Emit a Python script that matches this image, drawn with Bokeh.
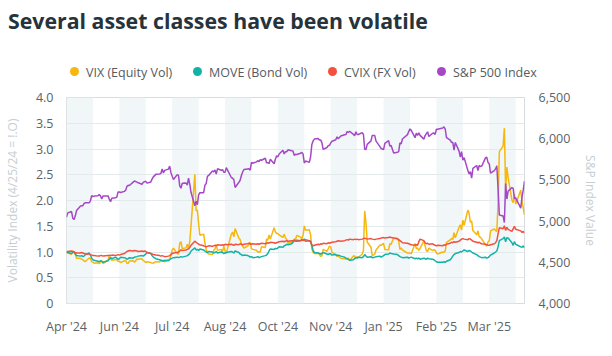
import html
import pandas as pd
from bokeh.plotting import figure
from bokeh.layouts import column
from bokeh.models import (Range1d, LinearAxis, FixedTicker, NumeralTickFormatter,
                          PrintfTickFormatter, BoxAnnotation, Grid, Div)
from bokeh.embed import file_html
from bokeh.resources import INLINE

# ---------------- data ----------------
START = "2024-04-25"
END = "2025-04-24"
market_holidays = ["2024-05-27", "2024-06-19", "2024-07-04", "2024-09-02", "2024-11-28",
                   "2024-12-25", "2025-01-01", "2025-01-09", "2025-01-20", "2025-02-17",
                   "2025-04-18"]

vix_close = [
    15.37, 15.03, 14.67, 15.65,
    15.39, 14.68, 13.49, 13.49, 13.23, 13.00, 12.69, 12.55, 13.60, 13.42, 12.45, 12.42, 11.99, 12.15, 11.86, 12.29, 12.77, 11.93, 12.92, 14.28, 13.45, 12.92,
    13.11, 13.06, 12.63, 12.58, 12.22, 12.74, 12.85, 12.04, 11.94, 12.66, 12.75, 12.30, 13.28, 13.20, 13.33, 12.84, 12.55, 12.24, 12.44,
    12.22, 12.03, 12.09, 12.48, 12.37, 12.79, 12.85, 12.91, 12.46, 13.12, 13.19, 14.48, 15.93, 16.52, 14.91, 14.72, 18.04, 18.46, 16.39, 16.60, 17.69, 16.36,
    18.59, 23.39, 38.57, 27.71, 27.85, 23.79, 20.37, 20.71, 18.12, 16.19, 15.23, 14.80, 14.65, 15.88, 16.27, 17.55, 15.86, 16.15, 15.43, 17.11, 15.65, 15.00,
    20.72, 21.32, 19.90, 22.38, 19.45, 19.08, 17.69, 17.07, 16.56, 17.14, 17.61, 18.23, 16.33, 16.15, 15.89, 15.39, 15.41, 15.37, 16.96, 16.73,
    19.26, 18.90, 20.49, 19.21, 22.64, 21.42, 20.86, 20.93, 20.46, 19.70, 20.64, 19.58, 19.11, 18.03, 18.37, 18.20, 19.24, 19.08, 20.33, 19.80, 19.34, 20.35, 23.16,
    21.88, 21.98, 20.49, 16.27, 15.20, 14.94, 14.97, 14.71, 14.02, 14.31, 16.14, 15.58, 16.35, 17.16, 16.87, 15.24, 14.60, 14.10, 14.10, 13.51,
    13.34, 13.30, 13.45, 13.54, 12.77, 14.19, 14.18, 13.58, 13.92, 13.81, 14.69, 15.87, 27.62, 24.09, 18.36, 16.78, 14.27, 14.73, 15.95, 17.40, 17.35,
    17.93, 16.13, 16.04, 17.82, 17.70, 19.54, 19.19, 18.71, 16.12, 16.60, 15.97, 15.06, 15.10, 15.02, 14.85, 17.90, 16.41, 16.56, 15.84, 16.43,
    18.62, 17.21, 15.77, 15.50, 16.54, 15.81, 16.02, 15.89, 15.10, 14.77, 15.35, 15.27, 15.66, 18.21, 18.98, 19.43, 19.10, 21.13, 19.63,
    22.78, 23.51, 21.93, 24.87, 23.37, 27.86, 26.92, 24.23, 24.66, 21.77, 20.51, 21.70, 19.90, 19.80, 19.28, 17.48, 17.15, 18.33, 18.69, 21.65, 22.28,
    21.77, 21.51, 30.02, 45.31, 46.98, 52.33, 33.62, 40.72, 37.56, 30.89, 30.12, 32.64, 29.65, 33.82, 30.57, 28.45, 26.47,
]

move_rel = [
    1.00, 0.99, 0.97, 0.99, 1.00, 0.96, 0.93, 0.92, 0.93, 0.91,
    0.92, 0.95, 0.98, 0.94, 0.88, 0.85, 0.84, 0.82, 0.81, 0.83,
    0.82, 0.80, 0.83, 0.86, 0.89, 0.87, 0.90, 0.88, 0.86, 0.87,
    0.90, 0.89, 0.88, 0.86, 0.87, 0.89, 0.88, 0.90, 0.91, 0.92,
    0.93, 0.92, 0.94, 0.96, 0.99, 0.97, 0.93, 0.90, 0.87, 0.85,
    0.84, 0.83, 0.82, 0.84, 0.83, 0.85, 0.87, 0.88, 0.89, 0.90,
    0.89, 0.90, 0.91, 0.90, 0.92, 0.93, 0.95, 0.97, 1.02, 1.08,
    1.04, 1.05, 1.03, 1.06, 1.04, 1.02, 1.00, 0.99, 1.01, 1.00,
    0.98, 0.99, 1.01, 0.98, 1.00, 0.99, 0.97, 0.98, 0.99, 1.01,
    1.00, 0.98, 1.02, 0.99, 0.96, 0.95, 0.93, 0.94, 0.93, 0.92,
    0.90, 0.91, 0.89, 0.90, 0.91, 0.89, 0.90, 0.91, 0.93, 0.94,
    0.97, 1.02, 1.06, 1.05, 1.07, 1.06, 1.08, 1.10, 1.09, 1.12,
    1.13, 1.15, 1.14, 1.16, 1.19, 1.22, 1.21, 1.23, 1.22, 1.24,
    1.23, 1.25, 1.24, 1.22, 1.20, 1.12, 1.03, 0.99, 0.98, 0.97,
    0.96, 0.97, 0.99, 0.96, 0.95, 0.97, 0.96, 0.94, 0.95, 0.93,
    0.94, 0.92, 0.90, 0.88, 0.87, 0.86, 0.84, 0.85, 0.87, 0.89,
    0.88, 0.90, 0.89, 0.91, 0.95, 0.92, 0.90, 0.91, 0.89, 0.90,
    0.91, 0.92, 0.90, 0.93, 0.95, 0.96, 0.98, 0.97, 0.96, 0.95,
    0.93, 0.91, 0.90, 0.89, 0.90, 0.88, 0.89, 0.90, 0.87, 0.88,
    0.87, 0.88, 0.86, 0.88, 0.87, 0.86, 0.88, 0.87, 0.86, 0.85,
    0.83, 0.81, 0.80, 0.80, 0.81, 0.80, 0.82, 0.85, 0.88, 0.92,
    0.95, 0.97, 0.99, 1.01, 1.00, 1.02, 1.04, 1.01, 1.03, 1.02,
    1.00, 0.98, 0.95, 0.93, 0.91, 0.90, 0.89, 0.90, 0.88, 0.89,
    0.91, 0.94, 0.98, 1.00, 1.02, 1.10, 1.22, 1.26, 1.29, 1.20,
    1.28, 1.27, 1.18, 1.13, 1.20, 1.15, 1.10, 1.09, 1.12, 1.08,
]

cvix_rel = [
    1.00, 1.01, 1.02, 1.01, 1.00, 0.99, 0.98, 0.98, 0.99, 0.98,
    0.97, 0.96, 0.96, 0.95, 0.94, 0.93, 0.93, 0.92, 0.92, 0.93,
    0.93, 0.92, 0.93, 0.94, 0.93, 0.94, 0.93, 0.94, 0.95, 0.94,
    0.95, 0.97, 0.99, 1.01, 1.02, 1.03, 1.02, 1.03, 1.02, 1.01,
    1.02, 1.01, 1.02, 1.01, 0.99, 0.97, 0.96, 0.95, 0.94, 0.93,
    0.92, 0.93, 0.92, 0.91, 0.92, 0.93, 0.95, 0.97, 0.98, 0.99,
    1.00, 1.02, 1.04, 1.03, 1.04, 1.05, 1.06, 1.09, 1.13, 1.21,
    1.19, 1.17, 1.15, 1.14, 1.12, 1.11, 1.10, 1.11, 1.12, 1.11,
    1.12, 1.13, 1.12, 1.14, 1.13, 1.14, 1.13, 1.15, 1.14, 1.15,
    1.14, 1.13, 1.15, 1.14, 1.16, 1.15, 1.14, 1.15, 1.16, 1.17,
    1.16, 1.15, 1.16, 1.15, 1.16, 1.15, 1.16, 1.17, 1.16, 1.17,
    1.18, 1.17, 1.19, 1.18, 1.17, 1.18, 1.19, 1.20, 1.21, 1.20,
    1.21, 1.22, 1.21, 1.22, 1.22, 1.23, 1.22, 1.21, 1.22, 1.23,
    1.22, 1.23, 1.21, 1.22, 1.20, 1.14, 1.12, 1.13, 1.15, 1.14,
    1.16, 1.15, 1.17, 1.16, 1.18, 1.17, 1.18, 1.19, 1.20, 1.21,
    1.22, 1.21, 1.22, 1.23, 1.24, 1.23, 1.25, 1.24, 1.25, 1.24,
    1.25, 1.24, 1.25, 1.26, 1.27, 1.26, 1.25, 1.26, 1.25, 1.24,
    1.25, 1.26, 1.27, 1.28, 1.27, 1.28, 1.29, 1.28, 1.27, 1.26,
    1.24, 1.22, 1.20, 1.18, 1.17, 1.16, 1.15, 1.14, 1.13, 1.14,
    1.13, 1.20, 1.25, 1.22, 1.18, 1.16, 1.17, 1.15, 1.16, 1.14,
    1.13, 1.12, 1.13, 1.12, 1.14, 1.13, 1.15, 1.17, 1.19, 1.18,
    1.20, 1.19, 1.21, 1.23, 1.25, 1.26, 1.25, 1.24, 1.26, 1.25,
    1.23, 1.21, 1.19, 1.18, 1.19, 1.17, 1.16, 1.15, 1.14, 1.13,
    1.13, 1.14, 1.16, 1.18, 1.22, 1.35, 1.47, 1.45, 1.51, 1.42,
    1.48, 1.44, 1.40, 1.45, 1.50, 1.44, 1.41, 1.38, 1.40, 1.37,
]

spx_close = [
    5048.42, 5099.96, 5116.17, 5035.69,
    5018.39, 5064.20, 5127.79, 5180.74, 5187.70, 5187.67, 5214.08, 5222.68, 5221.42, 5246.68, 5308.15, 5297.10, 5303.27, 5308.13, 5321.41, 5307.01, 5267.84, 5304.72, 5306.04, 5266.95, 5235.48, 5277.51,
    5283.40, 5291.34, 5354.03, 5352.96, 5346.99, 5360.79, 5375.32, 5421.03, 5433.74, 5431.60, 5473.23, 5487.03, 5473.17, 5464.62, 5447.87, 5469.30, 5477.90, 5482.87, 5460.48,
    5475.09, 5509.01, 5537.02, 5567.19, 5572.85, 5576.98, 5633.91, 5584.54, 5615.35, 5631.22, 5667.20, 5588.27, 5544.59, 5505.00, 5564.41, 5555.74, 5427.13, 5399.22, 5459.10, 5463.54, 5436.44, 5522.30,
    5446.68, 5346.56, 5186.33, 5240.03, 5199.50, 5319.31, 5344.16, 5344.39, 5434.43, 5455.21, 5543.22, 5554.25, 5608.25, 5597.12, 5620.85, 5570.64, 5634.61, 5616.84, 5625.80, 5592.18, 5591.96, 5648.40,
    5528.93, 5520.07, 5503.41, 5408.42, 5471.05, 5495.52, 5554.13, 5595.76, 5626.02, 5633.09, 5634.58, 5618.26, 5713.64, 5702.55, 5718.57, 5732.93, 5722.26, 5745.37, 5738.17, 5762.48,
    5708.75, 5709.54, 5699.94, 5751.07, 5695.94, 5751.13, 5792.04, 5780.05, 5815.03, 5859.85, 5815.26, 5842.47, 5841.47, 5864.67, 5853.98, 5851.20, 5797.42, 5809.86, 5808.12, 5823.52, 5832.92, 5813.67, 5705.45,
    5728.80, 5712.69, 5782.76, 5929.04, 5973.10, 5995.54, 6001.35, 5983.99, 5985.38, 5949.17, 5870.62, 5893.62, 5916.98, 5917.11, 5948.71, 5969.34, 5987.37, 6021.63, 5998.74, 6032.38,
    6047.15, 6049.88, 6086.49, 6075.11, 6090.27, 6052.85, 6034.91, 6084.19, 6051.25, 6051.09, 6074.08, 6050.61, 5872.16, 5867.08, 5930.85, 5974.07, 6040.04, 6037.59, 5970.84, 5906.94, 5881.63,
    5868.55, 5942.47, 5975.38, 5909.03, 5918.25, 5827.04, 5836.22, 5842.91, 5949.91, 5937.34, 5996.66, 6049.24, 6086.37, 6118.71, 6101.24, 6012.28, 6067.70, 6039.31, 6071.17, 6040.53,
    5994.57, 6037.88, 6061.48, 6083.57, 6025.99, 6066.44, 6068.50, 6051.97, 6115.07, 6114.63, 6129.58, 6144.15, 6117.52, 6013.13, 5983.25, 5955.25, 5956.06, 5861.57, 5954.50,
    5849.72, 5778.15, 5842.63, 5738.52, 5770.20, 5614.56, 5572.07, 5599.30, 5521.52, 5638.94, 5675.12, 5614.66, 5675.29, 5662.89, 5667.56, 5767.57, 5776.65, 5712.20, 5693.31, 5580.94, 5611.85,
    5633.07, 5670.97, 5396.52, 5074.08, 5062.25, 4982.77, 5456.90, 5268.05, 5363.36, 5405.97, 5396.63, 5275.70, 5282.70, 5158.20, 5287.76, 5375.86, 5484.77,
]

x_tick_days = [0, 42, 84, 126, 168, 210, 252, 294, 336]
x_tick_labels = ["Apr '24", "Jun '24", "Jul '24", "Aug '24", "Oct '24",
                 "Nov '24", "Jan '25", "Feb '25", "Mar '25"]
vol_ticks = [0, 0.5, 1.0, 1.5, 2.0, 2.5, 3.0, 3.5, 4.0]
spx_ticks = [4000, 4500, 5000, 5500, 6000, 6500]
series_names = ["VIX (Equity Vol)", "MOVE (Bond Vol)", "CVIX (FX Vol)", "S&P 500 Index"]
series_colors = ["#f6b70f", "#12b3a5", "#f2513f", "#a448c6"]
title_text = "Several asset classes have been volatile"

# ---------------- derived x positions ----------------
dates = pd.bdate_range(START, END)
dates = dates[~dates.isin(pd.to_datetime(market_holidays))]
days = [int(d) for d in (dates - pd.Timestamp(START)).days]
n = len(days)
assert n == len(vix_close) == len(move_rel) == len(cvix_rel) == len(spx_close), (
    n, len(vix_close), len(move_rel), len(cvix_rel), len(spx_close))
span = int((pd.Timestamp(END) - pd.Timestamp(START)).days)

vix_rel = [v / vix_close[0] for v in vix_close]

FONT = "Open Sans"
TICK_COLOR = "#5b6369"
TITLE_AX_COLOR = "#c6ced3"
W = 612
HEAD_H = 86
TOP_PAD = 11          # space above plot frame inside the chart figure (frame top at 97 px)
MAIN_H = 356 - HEAD_H

# ---------------- header: title + legend (HTML text) ----------------
legend_marker_left = [70, 193, 328, 437]   # layout: left edge of each legend marker, px
items_html = "".join(
    f'<span style="position:absolute;left:{lx}px;top:0;white-space:nowrap;">'
    f'<span style="display:inline-block;width:9px;height:9px;border-radius:50%;'
    f'background:{c};vertical-align:middle;margin-right:7px;position:relative;top:-1px;"></span>'
    f'<span style="vertical-align:middle;">{html.escape(nm)}</span></span>'
    for lx, c, nm in zip(legend_marker_left, series_colors, series_names)
)
header_html = (
    f'<div style="position:relative;width:{W}px;height:{HEAD_H}px;font-family:\'{FONT}\';">'
    f'<div style="position:absolute;left:8px;top:10px;font-size:21.3px;font-weight:700;'
    f'line-height:1;color:#27333b;white-space:nowrap;">{html.escape(title_text)}</div>'
    f'<div style="position:absolute;left:0;top:63px;width:{W}px;height:18px;line-height:18px;'
    f'font-size:12.5px;color:#555b60;">{items_html}</div>'
    f'</div>'
)
head = Div(text=header_html, width=W, height=HEAD_H, margin=(0, 0, 0, 0))

# ---------------- main chart ----------------
p = figure(width=W, height=MAIN_H, output_backend="svg", toolbar_location=None,
           x_range=Range1d(0, span), y_range=Range1d(0, 4),
           min_border_left=66, min_border_right=88, min_border_top=TOP_PAD, min_border_bottom=53)
p.background_fill_color = "white"
p.border_fill_color = "white"
p.outline_line_color = "#d6dcdf"
p.outline_line_width = 1

p.extra_y_ranges = {"spx": Range1d(4000, 6500)}

# shaded alternate bands
for t in x_tick_days:
    p.add_layout(BoxAnnotation(left=t, right=min(t + 21, span), fill_color="#f1f6f8",
                               fill_alpha=1.0, line_alpha=0, level="underlay"))

# series
p.line(days, vix_rel, line_color=series_colors[0], line_width=1.5)
p.line(days, move_rel, line_color=series_colors[1], line_width=1.5)
p.line(days, cvix_rel, line_color=series_colors[2], line_width=1.5)
p.line(days, spx_close, line_color=series_colors[3], line_width=1.5, y_range_name="spx")

def style_axis(ax):
    ax.axis_line_color = None
    ax.major_tick_line_color = None
    ax.minor_tick_line_color = None
    ax.major_tick_in = 0
    ax.major_tick_out = 0
    ax.minor_tick_in = 0
    ax.minor_tick_out = 0
    ax.major_label_text_font = FONT
    ax.major_label_text_font_size = "12.5px"
    ax.major_label_text_color = TICK_COLOR
    ax.axis_label_text_font = FONT
    ax.axis_label_text_font_size = "12px"
    ax.axis_label_text_font_style = "normal"
    ax.axis_label_text_color = TITLE_AX_COLOR

xa = p.xaxis[0]
style_axis(xa)
xa.ticker = FixedTicker(ticks=x_tick_days)
xa.major_label_overrides = dict(zip(x_tick_days, x_tick_labels))
xa.major_label_standoff = 14

ya = p.yaxis[0]
style_axis(ya)
ya.ticker = FixedTicker(ticks=vol_ticks)
ya.formatter = PrintfTickFormatter(format="%.1f")
ya.major_label_overrides = {0: "0"}
ya.major_label_standoff = 13
ya.axis_label = "Volatility Index (4/25/24 = !.O)"
ya.axis_label_standoff = 12

ra = LinearAxis(y_range_name="spx", ticker=FixedTicker(ticks=spx_ticks),
                formatter=NumeralTickFormatter(format="0,0"))
style_axis(ra)
ra.major_label_standoff = 14
ra.axis_label = "S&P Index Value"
ra.axis_label_standoff = 9
p.add_layout(ra, "right")

p.xgrid.visible = False
p.ygrid.ticker = FixedTicker(ticks=vol_ticks)
p.ygrid.grid_line_color = "#e4e9ec"
p.ygrid.grid_line_width = 1

# put grid after bands so grid lines show over bands
grids = [r for r in p.center if isinstance(r, Grid)]
others = [r for r in p.center if not isinstance(r, Grid)]
p.center = others + grids

layout = column(head, p, spacing=0)
open("out.html", "w").write(file_html(layout, INLINE))
